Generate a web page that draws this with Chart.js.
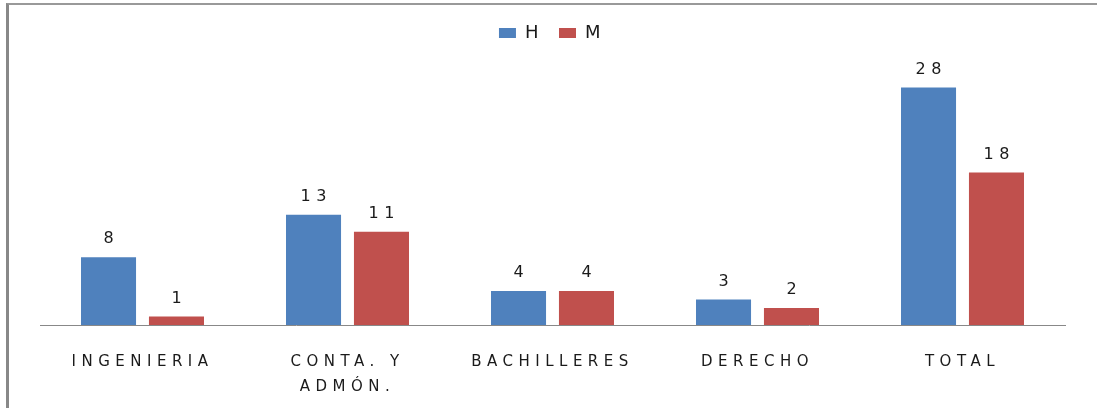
<!DOCTYPE html>
<html>
<head>
<meta charset="utf-8">
<script src="https://cdn.jsdelivr.net/npm/chart.js@4.4.0/dist/chart.umd.min.js"></script>
<style>
  html, body { margin: 0; padding: 0; background: #fff; }
  #wrap { position: relative; width: 1097px; height: 408px; overflow: hidden; }
  #frame { position: absolute; left: 6px; top: 3px; width: 1200px; height: 500px;
           border-top: 2px solid #999; border-left: 3px solid #888; pointer-events: none; }
  canvas { position: absolute; left: 0; top: 0; }
</style>
</head>
<body>
<div id="wrap">
  <canvas id="chart" width="1097" height="408"></canvas>
  <div id="frame"></div>
</div>
<script>
// data
const categories = ['INGENIERIA', ['CONTA. Y', 'ADMÓN.'], 'BACHILLERES', 'DERECHO', 'TOTAL'];
const hombres = [8, 13, 4, 3, 28];
const mujeres = [1, 11, 4, 2, 18];
const seriesNames = ['H', 'M'];

const FONT = "'DejaVu Sans', sans-serif";
const SPACING = 5.5;

// wide lettering like the original picture
const spacingPlugin = {
  id: 'spacing',
  beforeInit(chart) { chart.ctx.letterSpacing = SPACING + 'px'; },
  beforeUpdate(chart) { chart.ctx.letterSpacing = SPACING + 'px'; }
};

// numbers above bars
const valueLabels = {
  id: 'valueLabels',
  afterDatasetsDraw(chart) {
    const ctx = chart.ctx;
    ctx.save();
    ctx.font = '16px ' + FONT;
    ctx.fillStyle = '#1a1a1a';
    ctx.textAlign = 'center';
    ctx.textBaseline = 'middle';
    chart.data.datasets.forEach((ds, i) => {
      chart.getDatasetMeta(i).data.forEach((bar, j) => {
        ctx.fillText(String(ds.data[j]), bar.x + SPACING / 2, bar.y - 18);
      });
    });
    ctx.restore();
  }
};

new Chart(document.getElementById('chart'), {
  type: 'bar',
  data: {
    labels: categories,
    datasets: [
      { label: seriesNames[0], data: hombres, backgroundColor: '#4F81BD' },
      { label: seriesNames[1], data: mujeres, backgroundColor: '#C0504D' }
    ]
  },
  options: {
    responsive: false,
    animation: false,
    events: [],
    categoryPercentage: 0.663,
    barPercentage: 0.81,
    layout: { padding: { top: 9, left: 40, right: 32, bottom: 0 } },
    plugins: {
      legend: {
        position: 'top',
        labels: {
          boxWidth: 17,
          boxHeight: 10,
          padding: 15,
          color: '#1a1a1a',
          font: { family: FONT, size: 18 }
        }
      },
      tooltip: { enabled: false }
    },
    scales: {
      x: {
        grid: { display: false },
        border: { display: true, color: '#888', width: 1 },
        ticks: {
          color: '#1a1a1a',
          padding: 16,
          maxRotation: 0,
          autoSkip: false,
          font: { family: FONT, size: 15, lineHeight: 1.7 }
        },
        afterFit(scale) { scale.height = 83; }
      },
      y: {
        display: false,
        min: 0,
        max: 32.2
      }
    }
  },
  plugins: [spacingPlugin, valueLabels]
});
</script>
</body>
</html>
